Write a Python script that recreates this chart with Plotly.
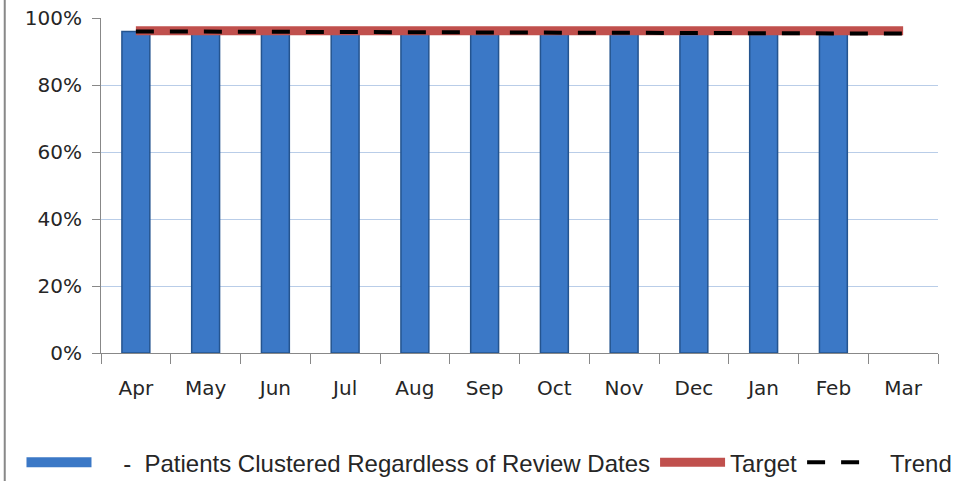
import plotly.graph_objects as go

months = ["Apr", "May", "Jun", "Jul", "Aug", "Sep", "Oct", "Nov", "Dec", "Jan", "Feb", "Mar"]
clustered = [0.960, 0.958, 0.957, 0.958, 0.956, 0.955, 0.956, 0.954, 0.955, 0.953, 0.954, None]
target = [0.962] * 12
trend = [0.960, 0.9594, 0.9588, 0.9582, 0.9576, 0.9570, 0.9564, 0.9558, 0.9552, 0.9546, 0.9540, 0.9534]
y_ticks = [0, 0.2, 0.4, 0.6, 0.8, 1.0]
y_labels = ["0%", "20%", "40%", "60%", "80%", "100%"]

bar_name = "    -  Patients Clustered Regardless of Review Dates"

fig = go.Figure()
fig.add_trace(go.Bar(
    x=months, y=clustered, name=bar_name, showlegend=False,
    marker=dict(color="#3b78c6", line=dict(color="#24548f", width=1.5)),
    width=0.40,
))
# legend entry for bars (wide rectangle swatch)
fig.add_trace(go.Scatter(
    x=[None], y=[None], name=bar_name, mode="lines",
    line=dict(color="#3b78c6", width=12),
))
fig.add_trace(go.Scatter(
    x=months, y=target, name="Target", mode="lines",
    line=dict(color="#c0504d", width=9),
))
fig.add_trace(go.Scatter(
    x=months, y=trend, name="  Trend", mode="lines",
    line=dict(color="#000000", width=4, dash="18px,16px"),
))

fig.update_layout(
    width=961, height=481,
    margin=dict(l=101, r=23, t=18, b=128, autoexpand=False),
    paper_bgcolor="white", plot_bgcolor="white",
    font=dict(family="DejaVu Sans", size=20, color="#262626"),
    showlegend=True,
    legend=dict(
        orientation="h", x=-0.095, xanchor="left", y=-0.26, yanchor="top",
        font=dict(family="Liberation Sans Narrow, Liberation Sans", size=24, color="#262626"),
        itemwidth=65, tracegroupgap=0,
    ),
    xaxis=dict(
        showline=True, linecolor="#888888", linewidth=1,
        ticks="outside", ticklen=10, tickcolor="#888888",
        tickson="boundaries", showgrid=False,
        tickfont=dict(size=20), ticklabelstandoff=17,
    ),
    yaxis=dict(
        range=[0, 1.0], tickvals=y_ticks, ticktext=y_labels,
        showline=True, linecolor="#888888", linewidth=1,
        ticks="outside", ticklen=8, tickcolor="#888888",
        showgrid=True, gridcolor="#b9cde8", gridwidth=1,
        zeroline=False, tickfont=dict(size=20), ticklabelstandoff=6,
    ),
    shapes=[dict(type="line", xref="paper", yref="paper", x0=-0.115, x1=-0.115, y0=-0.4, y1=1.06,
                 line=dict(color="#888888", width=2))],
)

fig.write_html("out.html", config={"displayModeBar": False},
               post_script="document.body.style.margin='0';document.body.style.overflow='hidden';")
